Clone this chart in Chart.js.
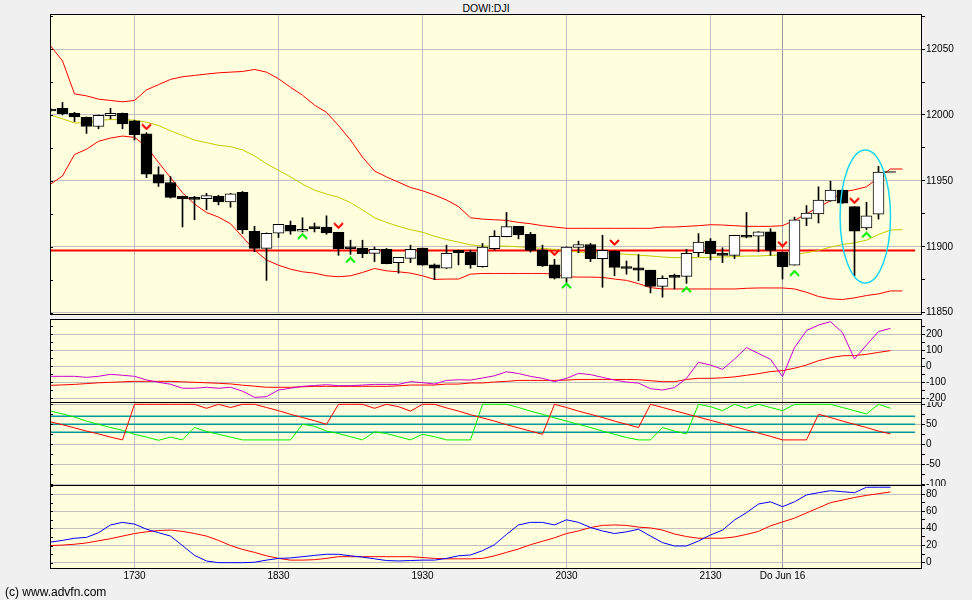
<!DOCTYPE html>
<html>
<head>
<meta charset="utf-8">
<script src="https://cdn.jsdelivr.net/npm/chart.js@4.4.1/dist/chart.umd.min.js"></script>
<style>
html, body { margin: 0; padding: 0; background: #f0f0f0; width: 972px; height: 600px; overflow: hidden; position: relative; font-family: "Liberation Sans", Arial, sans-serif; }
canvas { position: absolute; left: 0; }
#title { position: absolute; top: 2px; left: 0; width: 972px; text-align: center; font-size: 10.5px; color: #000; }
#copy { position: absolute; left: 5px; top: 585px; font-size: 12px; color: #000; }
</style>
</head>
<body>
<div id="title">DOWI:DJI</div>
<canvas id="c1" width="972" height="320" style="top:0px"></canvas>
<canvas id="c2" width="972" height="84" style="top:319px"></canvas>
<canvas id="c3" width="972" height="84" style="top:402px"></canvas>
<canvas id="c4" width="972" height="115" style="top:485px"></canvas>
<div id="copy">(c) www.advfn.com</div>
<script>
// 5 minute candles, index 0 = 16:55
var opens = [12004.5, 12005, 12001.25, 11998.25, 11991.25, 11999.5, 12001.25, 11995.5, 11985.75, 11954.75,
  11948.75, 11938.25, 11936.5, 11936.5, 11938.25, 11934, 11941.25, 11911.75, 11898.75, 11910.25,
  11916.25, 11911.75, 11915, 11915, 11911, 11899.75, 11899, 11895, 11898, 11888,
  11891.25, 11899, 11886.25, 11883.75, 11897.25, 11896, 11885, 11898.5, 11907.75, 11915.5,
  11909.5, 11897.75, 11886.25, 11876.25, 11899.5, 11901.75, 11891, 11896.75, 11884.75, 11884,
  11882.25, 11870, 11878, 11877.5, 11895.5, 11904.25, 11895, 11893.5, 11908.75, 11908,
  11911.25, 11896, 11886, 11921.5, 11925, 11934.75, 11943, 11930.5, 11914.25, 11924.75];
var highs = [12005, 12009.5, 12002, 11998.5, 12000, 12005, 12001.5, 11996, 11986.5, 11960.75,
  11953.25, 11938.5, 11938.25, 11940.5, 11939, 11940.5, 11942, 11915.5, 11910.5, 11917,
  11919.5, 11922, 11918, 11923.5, 11911, 11905, 11905, 11899.75, 11898.75, 11892,
  11901.25, 11899, 11887, 11901.25, 11897.5, 11897.5, 11902.5, 11912.25, 11926, 11915.5,
  11911, 11901.25, 11890.5, 11900, 11904.25, 11902.5, 11908.75, 11897, 11889.25, 11894,
  11882.25, 11878, 11879.25, 11898, 11910, 11906.25, 11899.25, 11908.75, 11926, 11911.5,
  11913.75, 11896, 11922.5, 11931.25, 11945.5, 11949.75, 11943.5, 11930.5, 11933.75, 11961];
var lows = [12002.5, 12000, 11995, 11986, 11989.5, 11997, 11989.5, 11981, 11952.5, 11945.75,
  11937, 11915, 11920.5, 11928, 11931.75, 11930, 11910, 11896.25, 11874.5, 11907,
  11909.5, 11911.25, 11911.25, 11909.5, 11893.5, 11894.25, 11891.75, 11888.75, 11887, 11880,
  11888, 11886, 11875, 11883.5, 11886.25, 11883.75, 11884.5, 11897.5, 11907.5, 11906,
  11896, 11885, 11875.5, 11873, 11895.5, 11888.75, 11869.25, 11878, 11879.25, 11874.25,
  11865, 11861.75, 11868, 11872.25, 11892.5, 11890, 11888, 11891, 11906.75, 11896.25,
  11893.5, 11875.5, 11886, 11916, 11918, 11934.5, 11933, 11878, 11913, 11921];
var closes = [12003, 12001, 11998.5, 11991.25, 11999.75, 12001.25, 11993.25, 11985, 11955, 11948.25,
  11937.5, 11936.25, 11936, 11938.75, 11934, 11940.25, 11912.75, 11898.75, 11910.25, 11917,
  11911.75, 11913.25, 11913.75, 11910.5, 11898.5, 11898.5, 11894.75, 11898, 11887.25, 11892,
  11898, 11886, 11883.75, 11895, 11895.5, 11886.25, 11899.75, 11908, 11915.25, 11909,
  11897.25, 11885.5, 11876.25, 11899.75, 11901.75, 11891, 11897.25, 11884.25, 11883.5, 11882.25,
  11870, 11876, 11876.75, 11895, 11903.5, 11894.75, 11893.5, 11908.75, 11907.25, 11911.25,
  11897.25, 11885, 11920.5, 11925.5, 11935.5, 11943, 11933, 11911.75, 11923.5, 11956.75];

var upperBand = [12052.5, 12041, 12016, 12014.5, 12012, 12011, 12010, 12011, 12019, 12023,
  12027, 12029, 12030, 12031, 12032, 12032.5, 12033, 12034.5, 12032.5, 12027.5,
  12021, 12015, 12007.5, 12002, 11992, 11981, 11968, 11957.5, 11953, 11949,
  11945, 11942.5, 11939.25, 11935.5, 11930.5, 11922, 11921, 11920.5, 11920, 11918.5,
  11917.5, 11916, 11915, 11914, 11914, 11914, 11914, 11914, 11914, 11914,
  11914, 11915, 11915, 11915.5, 11916, 11916.75, 11916.5, 11916, 11915.5, 11915.5,
  11915.5, 11916, 11920, 11925, 11930, 11935, 11941.5, 11943.25, 11945.5, 11952.5,
  11959, 11959];
var middleBand = [12000, 11997, 11994, 11994, 11996, 11996.5, 11996.5, 11996, 11994.5, 11992,
  11988, 11984.5, 11981, 11979, 11977, 11976, 11973.5, 11969, 11963, 11958,
  11953, 11947.5, 11943, 11940, 11937.5, 11933.5, 11928, 11922, 11918.5, 11915.5,
  11913, 11911, 11908, 11905.5, 11903.5, 11901.5, 11900.5, 11900.5, 11900.5, 11900,
  11899.5, 11898.75, 11898, 11897, 11896, 11895.5, 11895.5, 11895, 11894.25, 11893.75,
  11893, 11892.25, 11891.75, 11891.75, 11891.75, 11892, 11892.25, 11892.5, 11893, 11893,
  11893.5, 11893.75, 11894.25, 11895.5, 11897.25, 11899.75, 11901.75, 11903, 11905, 11909.25,
  11912.75, 11913];
var lowerBand = [11947.5, 11953.75, 11970, 11974, 11980, 11982.5, 11984, 11983, 11976, 11964,
  11952.5, 11941, 11932.5, 11926, 11922.5, 11917.5, 11907.5, 11897.5, 11890, 11886,
  11883, 11881, 11880, 11878, 11877.25, 11878, 11880.5, 11883.5, 11881.75, 11881,
  11880, 11878, 11875.25, 11875.5, 11875.5, 11879.25, 11879.75, 11879.75, 11879.75, 11879.75,
  11879.75, 11879.75, 11879.25, 11877.25, 11877, 11877, 11876.75, 11875.5, 11874.5, 11872,
  11869, 11868, 11868, 11868, 11868, 11868, 11868, 11868, 11868.5, 11868.75,
  11868.75, 11868.75, 11868, 11865.5, 11862.25, 11860.5, 11860, 11861.25, 11863, 11864.25,
  11866.5, 11866.5];
var priorClose = 11897.25;

var sellIdx = [8, 24, 42, 47, 61, 67];
var sellLevel = [11991, 11916, 11895.5, 11903.25, 11902, 11935];
var buyIdx = [21, 25, 43, 53, 62, 68];
var buyLevel = [11908, 11890, 11870.5, 11867.5, 11880, 11909];

var macdFast = [-62.5, -62.5, -62.5, -69, -62.5, -50, -56, -62.5, -85, -100,
  -112, -137, -137, -131, -137, -131, -155, -194, -190, -148,
  -137, -125, -120, -115, -121, -121, -117, -113, -113, -113,
  -96, -102, -111, -88, -84, -86, -73, -59, -34, -45,
  -63, -75, -96, -75, -44, -52, -69, -86, -98, -105,
  -140, -148, -133, -75, 25, 8, -19, 45, 117, 80,
  44, -65, 117, 223, 258, 279, 210, 46, 133, 217,
  237];
var macdSignal = [-119, -116, -113, -108, -103, -100, -97, -94, -94, -94,
  -94, -97, -100, -103, -106, -110, -118, -124, -131, -131,
  -131, -128, -125, -125, -125, -125, -125, -125, -125, -122,
  -117, -117, -117, -111, -111, -104, -104, -98, -94, -88,
  -88, -88, -88, -86, -82, -82, -82, -82, -82, -84,
  -90, -96, -96, -82, -75, -75, -72, -66, -56, -46,
  -33, -27, -12, 8, 35, 54, 66, 67, 75, 87,
  98];

var oscRed = [56, 49, 41, 33, 26, 18, 11, 100, 100, 100,
  100, 100, 100, 90, 100, 92, 100, 100, 92, 84,
  75, 67, 59, 50, 100, 100, 100, 90, 100, 94,
  83, 100, 100, 91, 83, 74, 66, 58, 49, 41,
  33, 25, 100, 92, 83, 75, 67, 58, 50, 42,
  100, 92, 84, 76, 68, 60, 52, 44, 36, 28,
  20, 11, 11, 11, 75, 67, 58, 50, 42, 33,
  26];
var oscGreen = [83, 76, 68, 58, 50, 42, 35, 25, 18, 10,
  18, 11, 42, 32, 25, 18, 11, 11, 11, 11,
  11, 50, 45, 33, 27, 19, 11, 31, 27, 19,
  11, 25, 19, 11, 11, 11, 100, 100, 100, 92,
  83, 75, 66, 58, 50, 42, 33, 25, 17, 11,
  11, 42, 33, 26, 100, 94, 84, 100, 90, 100,
  92, 84, 100, 100, 100, 100, 92, 84, 76, 100,
  90];
var oscLevels = [70, 50, 30];

var trendBlue = [24, 26, 28.5, 29.5, 35, 44, 47, 45, 39, 35,
  31, 20, 8.5, 2, 0, 0, 0, 0.5, 3, 5,
  5.5, 7, 8.5, 9.8, 9.8, 8, 6.5, 4.5, 2.5, 2,
  2.5, 3, 3, 5, 8, 9, 14, 21, 33, 44,
  47, 47, 44, 50, 47, 41, 37, 34, 36, 39,
  31, 23.4, 19.5, 19.5, 25.3, 32.3, 38, 49.8, 58.3, 68.4,
  71, 65.3, 71, 79, 81.6, 84, 82.8, 81.6, 88, 88,
  88];
var trendRed = [20, 20.5, 21.5, 23, 25.5, 28, 31, 34, 36, 37.5,
  38, 36.5, 34, 31, 26, 20, 15.5, 12, 8, 5,
  3, 3, 3.5, 5, 7, 7, 7, 7, 7, 7,
  7, 6, 5, 4.5, 4.5, 4.5, 5, 8, 12, 16,
  21, 25, 29, 34, 37, 41, 43.5, 44, 43.5, 41.5,
  40.5, 38, 33.5, 30.5, 28.5, 28.5, 28.5, 30, 33, 36.5,
  43, 47.5, 52, 58, 64, 70, 73, 76, 78.5, 80.5,
  82.5];

var xTickIdx = [7, 19, 31, 43, 55, 61];
var xTickText = ['1730', '1830', '1930', '2030', '2130', 'Do Jun 16'];
var priceTicks = [11850, 11900, 11950, 12000, 12050];
var macdTicks = [200, 100, 0, -100, -200];
var oscTicks = [100, 50, 0, -50, -100];
var trendTicks = [80, 60, 40, 20, 0];

var ellipseCenter = [67.9, 11923];
var ellipseRadius = [2.1, 50.5];

var X_MIN = -0.5 / 12, X_MAX = X_MIN + 872 / 12;
var LINE_END = 72.05;
var GRID = '#c0c0c0';
var FONT = { family: '"Liberation Sans", Arial, sans-serif', size: 10 };

Chart.defaults.font.family = FONT.family;

function pts(arr) {
  return arr.map(function (v, i) { return { x: i, y: v }; });
}

function flat(v) {
  return [{ x: X_MIN, y: v }, { x: LINE_END, y: v }];
}

function line(data, color, width, order) {
  return { type: 'line', data: data, borderColor: color, borderWidth: width || 1, pointRadius: 0, fill: false, tension: 0, order: order || 3 };
}

function chevron(color, up) {
  var c = document.createElement('canvas');
  c.width = 11; c.height = 7;
  var g = c.getContext('2d');
  g.strokeStyle = color; g.lineWidth = 2;
  g.beginPath();
  if (up) { g.moveTo(1, 6); g.lineTo(5.5, 1.5); g.lineTo(10, 6); }
  else { g.moveTo(1, 1); g.lineTo(5.5, 5.5); g.lineTo(10, 1); }
  g.stroke();
  return c;
}

var framePlugin = {
  id: 'frame',
  beforeDraw: function (chart) {
    var a = chart.chartArea, ctx = chart.ctx;
    ctx.save();
    ctx.fillStyle = '#ffffdd';
    ctx.fillRect(a.left, a.top, a.right - a.left, a.bottom - a.top);
    ctx.restore();
  },
  afterDraw: function (chart) {
    var a = chart.chartArea, ctx = chart.ctx, yl = chart.scales.yl;
    ctx.save();
    ctx.strokeStyle = '#000';
    ctx.lineWidth = 1;
    ctx.strokeRect(a.left + 0.5, a.top + 0.5, a.right - a.left - 1, a.bottom - a.top);
    // small inward tick marks on the left edge
    ctx.beginPath();
    yl.ticks.forEach(function (t) {
      var py = Math.round(yl.getPixelForValue(t.value)) + 0.5;
      ctx.moveTo(a.left, py);
      ctx.lineTo(a.left + 3, py);
    });
    ctx.stroke();
    ctx.restore();
  }
};

var ellipsePlugin = {
  id: 'ellipse',
  afterDatasetsDraw: function (chart) {
    var x = chart.scales.x, y = chart.scales.y, ctx = chart.ctx;
    var cx = x.getPixelForValue(ellipseCenter[0]);
    var cy = y.getPixelForValue(ellipseCenter[1]);
    var rx = Math.abs(x.getPixelForValue(ellipseCenter[0] + ellipseRadius[0]) - cx);
    var ry = Math.abs(y.getPixelForValue(ellipseCenter[1] + ellipseRadius[1]) - cy);
    ctx.save();
    ctx.strokeStyle = '#18d8f0';
    ctx.lineWidth = 1.5;
    ctx.beginPath();
    ctx.ellipse(cx, cy, rx, ry, 0, 0, Math.PI * 2);
    ctx.stroke();
    ctx.restore();
  }
};

function xAxis(showLabels) {
  return {
    type: 'linear', min: X_MIN, max: X_MAX, bounds: 'data', offset: false,
    grid: { offset: false, drawTicks: false, color: function (ctx) { return ctx.tick && ctx.tick.value === 61 ? '#9a9a9a' : GRID; } },
    border: { display: false },
    ticks: { display: showLabels, font: FONT, color: '#000', padding: 2, maxRotation: 0, autoSkip: false,
      callback: function (v) { return xTickText[xTickIdx.indexOf(v)]; } },
    afterBuildTicks: function (s) { s.ticks = xTickIdx.map(function (v) { return { value: v }; }); },
    afterFit: function (s) { s.height = showLabels ? 32 : 0; s.paddingLeft = 0; s.paddingRight = 0; }
  };
}

function panel(id, padTop, padBottom, yMin, yMax, yTicks, minorStep, datasets, showX, extra) {
  return new Chart(document.getElementById(id), {
    type: 'bar',
    data: { datasets: datasets },
    options: {
      responsive: false, animation: false, devicePixelRatio: 1, events: [],
      layout: { padding: { top: padTop, bottom: padBottom, left: 0, right: 0 } },
      plugins: { legend: { display: false }, tooltip: { enabled: false } },
      scales: {
        x: xAxis(showX),
        yl: {
          type: 'linear', position: 'left', min: yMin, max: yMax, beginAtZero: false,
          ticks: { display: false, stepSize: minorStep, includeBounds: false, maxTicksLimit: 60 },
          grid: { drawOnChartArea: false, drawTicks: false },
          border: { display: false },
          afterFit: function (s) { s.width = 50; s.paddingTop = 0; s.paddingBottom = 0; }
        },
        y: {
          type: 'linear', position: 'right', min: yMin, max: yMax, beginAtZero: false,
          ticks: { font: FONT, color: '#000', padding: 1, autoSkip: false, stepSize: minorStep, includeBounds: false, maxTicksLimit: 60,
            callback: function (v) { return yTicks.indexOf(v) >= 0 ? String(v) : ''; } },
          grid: { tickLength: 3, tickColor: '#000',
            color: function (ctx) { return ctx.tick && yTicks.indexOf(ctx.tick.value) >= 0 ? GRID : 'rgba(0,0,0,0)'; } },
          border: { display: false },
          afterFit: function (s) { s.width = 50; s.paddingTop = 0; s.paddingBottom = 0; }
        }
      }
    },
    plugins: [framePlugin].concat(extra || [])
  });
}

// price panel
var wicks = {
  type: 'bar', grouped: false, order: 1, barThickness: 1, backgroundColor: '#000', borderWidth: 0,
  data: lows.map(function (l, i) { return { x: i, y: [l, highs[i]] }; })
};
var bodies = {
  type: 'bar', grouped: false, order: 0, barThickness: 11, minBarLength: 2,
  borderColor: '#000', borderWidth: 1, borderSkipped: false,
  backgroundColor: opens.map(function (o, i) { return closes[i] >= o ? '#ffffff' : '#000000'; }),
  data: opens.map(function (o, i) { return { x: i, y: [o, closes[i]] }; })
};
var sells = {
  type: 'line', showLine: false, order: 0, pointStyle: chevron('#ff0000', false), pointRadius: 5,
  data: sellIdx.map(function (v, i) { return { x: v, y: sellLevel[i] }; })
};
var buys = {
  type: 'line', showLine: false, order: 0, pointStyle: chevron('#00ee00', true), pointRadius: 5,
  data: buyIdx.map(function (v, i) { return { x: v, y: buyLevel[i] }; })
};
var lastClose = closes[closes.length - 1];

panel('c1', 14, 1, 11849, 12076.6, priceTicks, 25, [
  bodies, wicks, sells, buys,
  line(pts(upperBand), '#ff0000'),
  line(pts(lowerBand), '#ff0000'),
  line(pts(middleBand), '#c8c800'),
  line(flat(priorClose), '#ff0000', 2, 4),
  line([{ x: 69.4, y: lastClose }, { x: 70.45, y: lastClose }], '#000000', 1, 2)
], false, [ellipsePlugin]);

panel('c2', 0, 1, -223, 295.6, macdTicks, 50, [
  line(pts(macdFast), '#cc00cc'),
  line(pts(macdSignal), '#ff0000')
], false);

panel('c3', 0, 1, -101.75, 105.75, oscTicks, 25, [
  line(pts(oscRed), '#ff0000', 1, 2),
  line(pts(oscGreen), '#00ee00', 1, 2)
].concat(oscLevels.map(function (v) { return line(flat(v), '#009999', 1.5, 5); })), false);

panel('c4', 0, 0, -6.2, 90.6, trendTicks, 10, [
  line(pts(trendBlue), '#0000ff'),
  line(pts(trendRed), '#ff0000')
], true);
</script>
</body>
</html>
